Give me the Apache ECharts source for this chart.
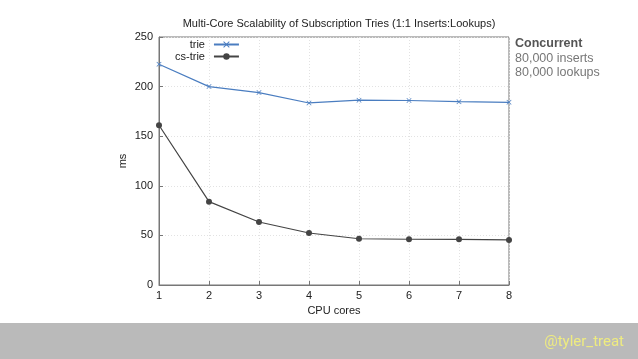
<!DOCTYPE html>
<html><head><meta charset="utf-8">
<script src="https://cdn.jsdelivr.net/npm/echarts@6/dist/echarts.min.js"></script>
<style>html,body{margin:0;padding:0;background:#fff;}#c{width:638px;height:359px;}</style>
</head><body><div id="c"></div>
<script>
const cores = [1, 2, 3, 4, 5, 6, 7, 8];
const trie = [222.5, 200, 194, 183.5, 186.3, 186, 184.8, 184.1];
const csTrie = [161, 84, 63.5, 52.4, 46.6, 46.1, 46, 45.4];
const yTicks = [0, 50, 100, 150, 200, 250];

const chart = echarts.init(document.getElementById('c'), null, {renderer: 'canvas'});
const font = 'Liberation Sans, Arial, sans-serif';
const xSym = 'path://M0,1L1,0L5,4L9,0L10,1L6,5L10,9L9,10L5,6L1,10L0,9L4,5Z';
chart.setOption({
  animation: false,
  backgroundColor: '#fff',
  title: {
    text: 'Multi-Core Scalability of Subscription Tries (1:1 Inserts:Lookups)',
    left: 334, top: 13, textAlign: 'center',
    textStyle: {fontFamily: font, fontSize: 11, fontWeight: 'normal', color: '#222'}
  },
  legend: {
    orient: 'vertical', left: 175, top: 39, align: 'right', padding: 0,
    itemWidth: 25, itemHeight: 8, itemGap: 1,
    textStyle: {fontFamily: font, fontSize: 11, color: '#222', padding: [0, 4, 0, 0]},
    data: ['trie', 'cs-trie']
  },
  grid: {left: 159, right: 129, top: 37, bottom: 74, show: true, borderColor: '#777', borderWidth: 1},
  xAxis: {
    type: 'value', min: 1, max: 8, interval: 1,
    name: 'CPU cores', nameLocation: 'middle', nameGap: 16,
    nameTextStyle: {fontFamily: font, fontSize: 11, color: '#222'},
    axisLine: {show: true, lineStyle: {color: '#777'}},
    axisTick: {show: true, inside: true, length: 4, lineStyle: {color: '#777'}},
    axisLabel: {fontFamily: font, fontSize: 11, color: '#222', margin: 5,
      formatter: v => cores.includes(v) ? String(v) : ''},
    splitLine: {show: true, lineStyle: {color: '#e2e2e2', type: [1, 2]}}
  },
  yAxis: {
    type: 'value', min: 0, max: 250, interval: 50,
    name: 'ms', nameLocation: 'middle', nameGap: 31, nameMoveOverlap: false,
    nameTextStyle: {fontFamily: font, fontSize: 11, color: '#222'},
    axisLine: {show: true, lineStyle: {color: '#777'}},
    axisTick: {show: true, inside: true, length: 4, lineStyle: {color: '#777'}},
    axisLabel: {fontFamily: font, fontSize: 11, color: '#222', margin: 6,
      formatter: v => yTicks.includes(v) ? String(v) : ''},
    splitLine: {show: true, lineStyle: {color: '#e2e2e2', type: [1, 2]}}
  },
  series: [
    {name: 'trie', type: 'line', data: cores.map((c, i) => [c, trie[i]]),
      symbol: xSym, symbolSize: 5, color: '#4a7dc0',
      lineStyle: {width: 1.2, color: '#4a7dc0'}, itemStyle: {color: '#4a7dc0'}},
    {name: 'cs-trie', type: 'line', data: cores.map((c, i) => [c, csTrie[i]]),
      symbol: 'circle', symbolSize: 6, color: '#444',
      lineStyle: {width: 1.2, color: '#444'}, itemStyle: {color: '#444'}}
  ],
  graphic: [
    {type: 'text', left: 515, top: 37, style: {text: 'Concurrent', fontFamily: font, fontSize: 12.5, fontWeight: 'bold', fill: '#555'}},
    {type: 'text', left: 515, top: 52, style: {text: '80,000 inserts', fontFamily: font, fontSize: 12.5, fill: '#777'}},
    {type: 'text', left: 515, top: 66.5, style: {text: '80,000 lookups', fontFamily: font, fontSize: 12.5, fill: '#777'}},
    {type: 'rect', left: 0, top: 323, shape: {width: 638, height: 36}, style: {fill: '#bababa'}, z: -1},
    {type: 'text', right: 14, top: 335, style: {text: '@tyler_treat', fontFamily: 'Roboto, sans-serif', fontSize: 15, fill: '#eeeb80'}}
  ]
});
</script></body></html>
